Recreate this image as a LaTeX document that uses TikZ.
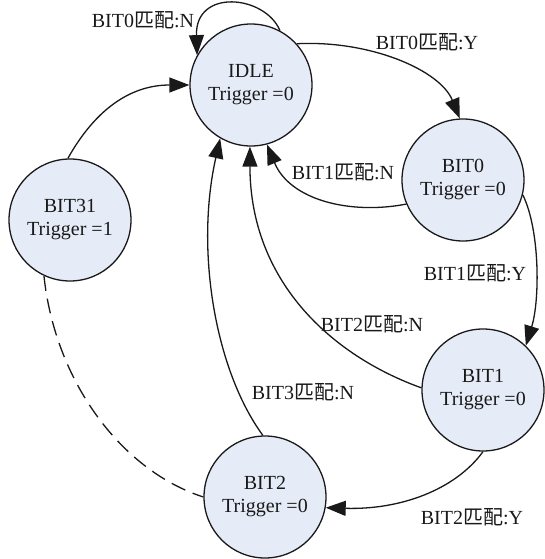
\documentclass[tikz,border=0pt]{standalone}
\usepackage{fontspec}
\setmainfont{Liberation Serif}
\newfontfamily\cjk{Noto Sans CJK SC}
\usetikzlibrary{arrows.meta}
\definecolor{statefill}{RGB}{230,236,247}
\definecolor{ink}{RGB}{25,25,25}
\newcommand{\pp}{{\cjk 匹配}}
\tikzset{
  state/.style={circle, draw=ink, line width=1.3pt, fill=statefill, minimum size=122pt, inner sep=0pt, align=center, font=\fontsize{20}{23}\selectfont, text=ink},
  trans/.style={draw=ink, line width=1.3pt, -{Triangle[length=20pt,width=15pt]}},
  lbl/.style={font=\fontsize{20}{23}\selectfont, text=ink, inner sep=0pt},
}
\begin{document}
\begin{tikzpicture}[x=1pt,y=-1pt]
\useasboundingbox (0,0) rectangle (544,559);
\node[state] (IDLE) at (251,85) {IDLE\\Trigger =0};
\node[state] (B0) at (463,180) {BIT0\\Trigger =0};
\node[state] (B1) at (483,390) {BIT1\\Trigger =0};
\node[state] (B2) at (265,497) {BIT2\\Trigger =0};
\node[state] (B31) at (70,220) {BIT31\\Trigger =1};

\draw[trans] (IDLE.62) .. controls (265,-5) and (195,-12) .. (IDLE.151);
\draw[trans] (IDLE.42) .. controls (370,40) and (440,70) .. (B0.93);
\draw[trans] (B0.203) .. controls (350,215) and (290,200) .. (IDLE.285);
\draw[trans] (B0.346) .. controls (540,230) and (540,300) .. (B1.46);
\draw[trans] (B1.178) .. controls (330,355) and (250,280) .. (IDLE.269);
\draw[trans] (B1.270) .. controls (455,490) and (400,510) .. (B2.350);
\draw[trans] (B2.92) .. controls (215,370) and (195,250) .. (IDLE.240);
\draw[trans] (B31.92) .. controls (95,110) and (130,85) .. (IDLE.180);
\draw[draw=ink, line width=1.3pt, dash pattern=on 15pt off 8pt] (B31.245) .. controls (55,380) and (120,470) .. (B2.180);

\node[lbl] (l1) at (143,20) {BIT0\pp:N};
\node[lbl] (l2) at (427,42) {BIT0\pp:Y};
\node[lbl] (l3) at (343,172) {BIT1\pp:N};
\node[lbl] (l4) at (475,273) {BIT1\pp:Y};
\node[lbl] (l5) at (372,324) {BIT2\pp:N};
\node[lbl] (l6) at (303,392) {BIT3\pp:N};
\node[lbl] (l7) at (472,517) {BIT2\pp:Y};
\end{tikzpicture}
\end{document}
